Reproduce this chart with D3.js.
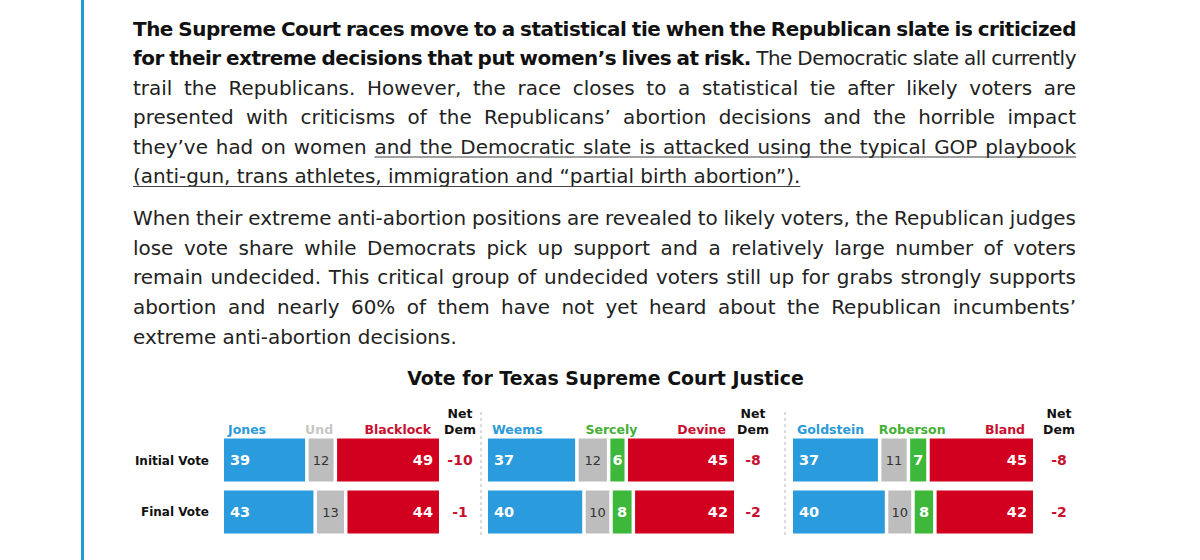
<!DOCTYPE html>
<html>
<head>
<meta charset="utf-8">
<script src="https://cdn.jsdelivr.net/npm/d3@7"></script>
<style>
  html, body { margin: 0; padding: 0; background: #fff; }
  svg { display: block; font-family: "DejaVu Sans", sans-serif; }
</style>
</head>
<body>
<div id="chart"></div>
<script>
// ---- data ----
const rowLabels = ["Initial Vote", "Final Vote"];
const demNames = ["Jones", "Weems", "Goldstein"];
const thirdNames = [null, "Sercely", "Roberson"];
const repNames = ["Blacklock", "Devine", "Bland"];

const demShare = [[39, 43], [37, 40], [37, 40]];
const undShare = [[12, 13], [12, 10], [11, 10]];
const thirdShare = [[null, null], [6, 8], [7, 8]];
const repShare = [[49, 44], [45, 42], [45, 42]];
const netDem = [[-10, -1], [-8, -2], [-8, -2]];

const chartTitle = "Vote for Texas Supreme Court Justice";

const para1 = [
    [{ t: "The Supreme Court races move to a statistical tie when the Republican slate is criticized", b: true }],
    [{ t: "for their extreme decisions that put women’s lives at risk.", b: true }, { t: "The Democratic slate all currently" }],
    [{ t: "trail the Republicans. However, the race closes to a statistical tie after likely voters are" }],
    [{ t: "presented with criticisms of the Republicans’ abortion decisions and the horrible impact" }],
    [{ t: "they’ve had on women" }, { t: "and the Democratic slate is attacked using the typical GOP playbook", u: true }],
    [{ t: "(anti-gun, trans athletes, immigration and “partial birth abortion”).", u: true }]
];
const para2 = [
    [{ t: "When their extreme anti-abortion positions are revealed to likely voters, the Republican judges" }],
    [{ t: "lose vote share while Democrats pick up support and a relatively large number of voters" }],
    [{ t: "remain undecided. This critical group of undecided voters still up for grabs strongly supports" }],
    [{ t: "abortion and nearly 60% of them have not yet heard about the Republican incumbents’" }],
    [{ t: "extreme anti-abortion decisions." }]
];

// ---- colours ----
const demColor = "#2A9BDC";
const undColor = "#BDBDBD";
const thirdColor = "#3DB83A";
const repColor = "#D2001F";
const textColor = "#222";

// ---- layout ----
const W = 1200, H = 560;
const panels = [
    { x0: 224, x1: 439, net: 460 },
    { x0: 488, x1: 734, net: 753 },
    { x0: 793, x1: 1033, net: 1059 }
];
const separators = [481, 785];
const gap = 3.5;
const textLeft = 133, textRight = 1076;

const svg = d3.select("#chart")
    .append("svg")
    .attr("width", W)
    .attr("height", H);

// measuring helper
const probe = svg.append("text").attr("x", -1000).attr("y", -1000);
function measure(str, size, bold) {
    probe.attr("font-size", size).attr("font-weight", bold ? "bold" : "normal").text(str);
    return probe.node().getComputedTextLength();
}

// blue rule on the left
svg.append("rect")
    .attr("x", 81)
    .attr("y", 0)
    .attr("width", 3)
    .attr("height", H)
    .attr("fill", "#1F9AD6");

// ---- body text (justified) ----
const r1 = 325 / measure("extreme anti-abortion decisions.", 20, false);
const r2 = 666 / measure("(anti-gun, trans athletes, immigration and “partial birth abortion”).", 20, false);
const bodySize = 20 * (r1 + r2) / 2;
const spaceW = measure("a a", bodySize, false) - measure("aa", bodySize, false);

function drawParagraph(lines, firstBaseline, lineHeight) {
    lines.forEach((runs, li) => {
        const y = firstBaseline + li * lineHeight;
        const words = [];
        runs.forEach(run => {
            run.t.split(" ").forEach(w => {
                words.push({ w: w, b: !!run.b, u: !!run.u, width: measure(w, bodySize, run.b) });
            });
        });
        const avail = textRight - textLeft;
        // squeeze letters a little when the line would not fit with plain spaces
        const natural = d3.sum(words, d => d.width) + spaceW * 0.85 * (words.length - 1);
        let ls = 0;
        if (natural > avail) {
            ls = (avail - natural) / d3.sum(words, d => d.w.length);
            words.forEach(d => { d.width += ls * d.w.length; });
        }
        const justify = li < lines.length - 1;
        const total = d3.sum(words, d => d.width);
        const space = justify ? (avail - total) / (words.length - 1) : spaceW;
        let x = textLeft;
        words.forEach(d => { d.x = x; x += d.width + space; });

        svg.append("g")
            .selectAll("text")
            .data(words)
            .enter()
            .append("text")
            .attr("x", d => d.x)
            .attr("y", y)
            .attr("font-size", bodySize)
            .attr("font-weight", d => d.b ? "bold" : "normal")
            .attr("letter-spacing", ls)
            .attr("fill", d => d.b ? "#111" : textColor)
            .text(d => d.w);

        // underline runs of consecutive underlined words
        let start = null;
        words.forEach((d, i) => {
            if (d.u && start === null) start = d.x;
            const next = words[i + 1];
            if (d.u && (!next || !next.u)) {
                svg.append("line")
                    .attr("x1", start)
                    .attr("x2", d.x + d.width)
                    .attr("y1", y + 3.5)
                    .attr("y2", y + 3.5)
                    .attr("stroke", "#444")
                    .attr("stroke-width", 1.1);
                start = null;
            }
        });
    });
}
drawParagraph(para1, 35.5, 29.5);
drawParagraph(para2, 225, 29.7);

// ---- chart title ----
const titleSize = 18 * 397 / measure(chartTitle, 18, true);
svg.append("text")
    .attr("x", 605.5)
    .attr("y", 385)
    .attr("text-anchor", "middle")
    .attr("font-size", titleSize)
    .attr("font-weight", "bold")
    .attr("fill", "#111")
    .text(chartTitle);

// ---- rows ----
const y = d3.scaleBand()
    .domain(rowLabels)
    .range([438.5, 533.5])
    .paddingInner(0.173);

svg.selectAll(".row-label")
    .data(rowLabels)
    .enter()
    .append("text")
    .attr("class", "row-label")
    .attr("x", 209)
    .attr("y", d => y(d) + y.bandwidth() / 2 + 4.5)
    .attr("text-anchor", "end")
    .attr("font-size", 12)
    .attr("font-weight", "bold")
    .attr("fill", "#111")
    .text(d => d);

// dashed separators
separators.forEach(sx => {
    svg.append("line")
        .attr("x1", sx).attr("x2", sx)
        .attr("y1", 412).attr("y2", 538)
        .attr("stroke", "#C8C8C8")
        .attr("stroke-width", 1.3)
        .attr("stroke-dasharray", "3,3");
});

panels.forEach((p, pi) => {
    const g = svg.append("g");
    const x = d3.scaleLinear().domain([0, 100]);

    const rows = rowLabels.map((r, ri) => {
        const segs = [
            { key: "dem", v: demShare[pi][ri], color: demColor },
            { key: "und", v: undShare[pi][ri], color: undColor }
        ];
        if (thirdShare[pi][ri] != null) segs.push({ key: "third", v: thirdShare[pi][ri], color: thirdColor });
        segs.push({ key: "rep", v: repShare[pi][ri], color: repColor });
        x.range([p.x0, p.x1 - gap * (segs.length - 1)]);
        let cum = 0;
        segs.forEach((s, i) => {
            s.row = r;
            s.x = x(cum) + gap * i;
            s.w = x(cum + s.v) - x(cum);
            cum += s.v;
        });
        return segs;
    });
    const segs = rows.flat();

    g.selectAll("rect")
        .data(segs)
        .enter()
        .append("rect")
        .attr("x", d => d.x)
        .attr("y", d => y(d.row))
        .attr("width", d => d.w)
        .attr("height", y.bandwidth())
        .attr("fill", d => d.color);

    g.selectAll(".val")
        .data(segs)
        .enter()
        .append("text")
        .attr("class", "val")
        .attr("x", d => d.key === "dem" ? d.x + 6 : d.key === "rep" ? d.x + d.w - 6 : d.x + d.w / 2)
        .attr("y", d => y(d.row) + y.bandwidth() / 2 + 5)
        .attr("text-anchor", d => d.key === "dem" ? "start" : d.key === "rep" ? "end" : "middle")
        .attr("font-size", d => d.key === "und" ? 13 : 14.5)
        .attr("font-weight", d => d.key === "und" ? "normal" : "bold")
        .attr("fill", d => d.key === "und" ? "#333" : "#fff")
        .text(d => d.v);

    // header labels
    const top = rows[0];
    const headY = 434;
    g.append("text")
        .attr("x", p.x0 + 4)
        .attr("y", headY)
        .attr("font-size", 12.5)
        .attr("font-weight", "bold")
        .attr("fill", "#2B9AD8")
        .text(demNames[pi]);
    g.append("text")
        .attr("x", p.x1 - 8)
        .attr("y", headY)
        .attr("text-anchor", "end")
        .attr("font-size", 12.5)
        .attr("font-weight", "bold")
        .attr("fill", "#C8102E")
        .text(repNames[pi]);
    const third = top.find(s => s.key === "third");
    if (third) {
        g.append("text")
            .attr("x", third.x + third.w / 2 - 6)
            .attr("y", headY)
            .attr("text-anchor", "middle")
            .attr("font-size", 12.5)
            .attr("font-weight", "bold")
            .attr("fill", "#44B035")
            .text(thirdNames[pi]);
    } else {
        const und = top.find(s => s.key === "und");
        g.append("text")
            .attr("x", und.x + und.w / 2 - 2)
            .attr("y", headY)
            .attr("text-anchor", "middle")
            .attr("font-size", 12.5)
            .attr("font-weight", "bold")
            .attr("fill", "#C6C6C6")
            .text("Und");
    }

    // net dem column
    g.append("text")
        .attr("x", p.net)
        .attr("y", 418)
        .attr("text-anchor", "middle")
        .attr("font-size", 12.5)
        .attr("font-weight", "bold")
        .attr("fill", "#111")
        .text("Net");
    g.append("text")
        .attr("x", p.net)
        .attr("y", 434)
        .attr("text-anchor", "middle")
        .attr("font-size", 12.5)
        .attr("font-weight", "bold")
        .attr("fill", "#111")
        .text("Dem");
    g.selectAll(".net")
        .data(rowLabels)
        .enter()
        .append("text")
        .attr("class", "net")
        .attr("x", p.net)
        .attr("y", d => y(d) + y.bandwidth() / 2 + 5)
        .attr("text-anchor", "middle")
        .attr("font-size", 14)
        .attr("font-weight", "bold")
        .attr("fill", "#C8102E")
        .text((d, ri) => netDem[pi][ri]);
});

probe.remove();
</script>
</body>
</html>
